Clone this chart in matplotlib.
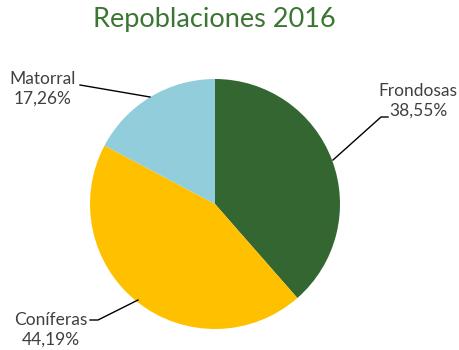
import matplotlib
matplotlib.use("Agg")
import matplotlib.pyplot as plt

categories = ["Frondosas", "Coníferas", "Matorral"]
values = [38.55, 44.19, 17.26]
colors = ["#336630", "#FFC000", "#92CDDC"]
title = "Repoblaciones 2016"

plt.rcParams['font.family'] = ['Lato', 'DejaVu Sans']

fig = plt.figure(figsize=(4.6, 3.5), dpi=100)
ax = fig.add_axes([0, 0, 1, 1])

cx, cy, r = 215, 146, 125
ax.pie(values, colors=colors, startangle=90, counterclock=False,
       center=(cx, cy), radius=r, frame=True,
       wedgeprops=dict(linewidth=0))
ax.set_xlim(0, 460)
ax.set_ylim(0, 350)
ax.set_aspect('equal')
ax.axis('off')

def lab(i):
    return f"{categories[i]}\n{values[i]:.2f}%".replace('.', ',')

fs = 12.5
tc = '#404040'
# Frondosas
ax.text(418, 249, lab(0), ha='center', va='center', fontsize=fs, color=tc, linespacing=1.3)
ax.plot([333, 381, 388], [190, 233, 233], color='black', lw=1)
# Coníferas
ax.text(51, 20, lab(1), ha='center', va='center', fontsize=fs, color=tc, linespacing=1.3)
ax.plot([90, 98, 138], [30, 30, 50], color='black', lw=1)
# Matorral
ax.text(43, 261, lab(2), ha='center', va='center', fontsize=fs, color=tc, linespacing=1.3)
ax.plot([80, 150], [265, 253], color='black', lw=1)

fig.text(214/460, 1 - 20/350, title, ha='center', va='center', fontsize=19.5, color='#3A7632')

fig.savefig("out.png", dpi=100)
